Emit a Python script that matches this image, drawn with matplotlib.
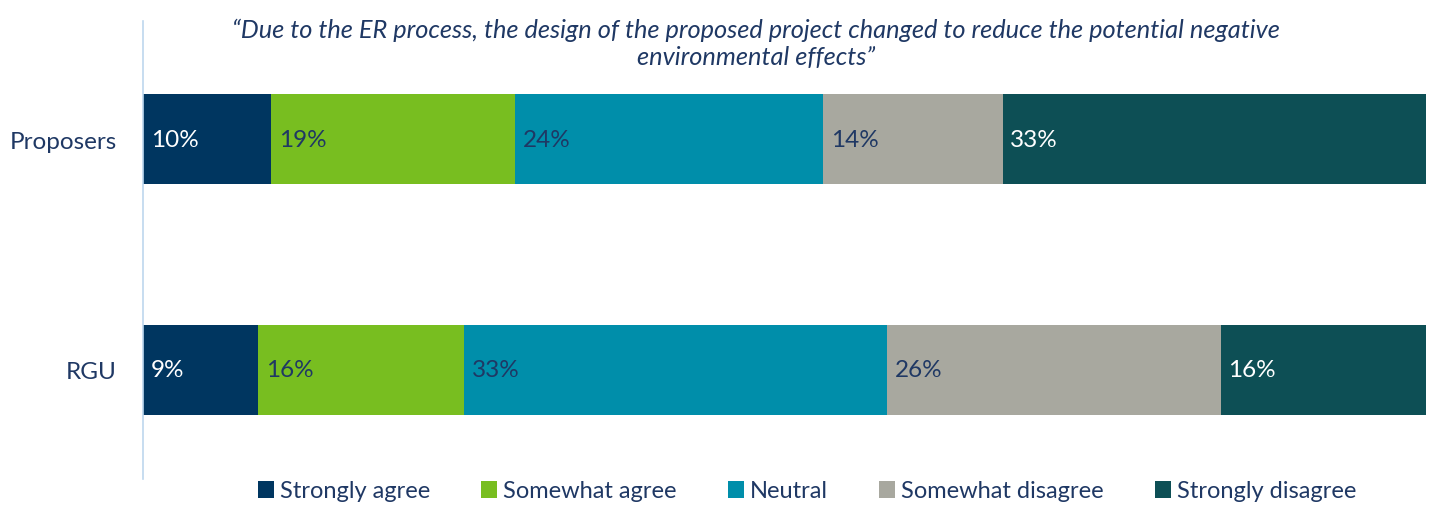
import numpy as np
import matplotlib
matplotlib.use("Agg")
from matplotlib import pyplot as plt

plt.rcParams['font.family'] = ['Lato', 'DejaVu Sans']

groups = ["Proposers", "RGU"]
responses = ["Strongly agree", "Somewhat agree", "Neutral", "Somewhat disagree", "Strongly disagree"]
proposers = [10, 19, 24, 14, 33]
rgu = [9, 16, 33, 26, 16]
title = ("\u201cDue to the ER process, the design of the proposed project changed to reduce the potential negative\n"
         "environmental effects\u201d")

colors = ["#003660", "#78BE20", "#008EAA", "#A8A89F", "#0D4F55"]
label_colors = ["white", "#1F3864", "#1F3864", "#1F3864", "white"]
text_col = "#1F3864"

values = np.array([proposers, rgu], dtype=float)

fig = plt.figure(figsize=(14.31, 5.06), dpi=100)
ax = fig.add_axes([143/1431, 26/506, (1426-143)/1431, 458/506])

y = np.arange(len(groups))
left = np.zeros(len(groups))
for i, resp in enumerate(responses):
    ax.barh(y, values[:, i], left=left, height=0.39, color=colors[i], label=resp)
    for j in range(len(groups)):
        ax.text(left[j] + 0.6, y[j], f"{int(values[j, i])}%", va="center", ha="left",
                color=label_colors[i], fontsize=17.5)
    left += values[:, i]

ax.set_xlim(0, 100)
ax.set_ylim(1.472, -0.511)
ax.set_yticks(y)
ax.set_yticklabels(groups, fontsize=17.5, color=text_col)
ax.tick_params(axis="y", length=0, pad=19)
ax.set_xticks([])
for s in ["top", "right", "bottom"]:
    ax.spines[s].set_visible(False)
ax.spines["left"].set_color("#BDD7EE")
ax.spines["left"].set_linewidth(1.2)

fig.text(756/1431, 1 - 44/506, title, ha="center", va="center", fontsize=18.3,
         style="italic", color=text_col, linespacing=1.2)

leg = fig.legend(loc="center", bbox_to_anchor=(807/1431, 1 - 492/506), ncol=5, frameon=False,
                 fontsize=17, handlelength=0.7, handleheight=0.7, handletextpad=0.25,
                 columnspacing=2.15)
for t in leg.get_texts():
    t.set_color(text_col)

fig.savefig("out.png", dpi=100)
